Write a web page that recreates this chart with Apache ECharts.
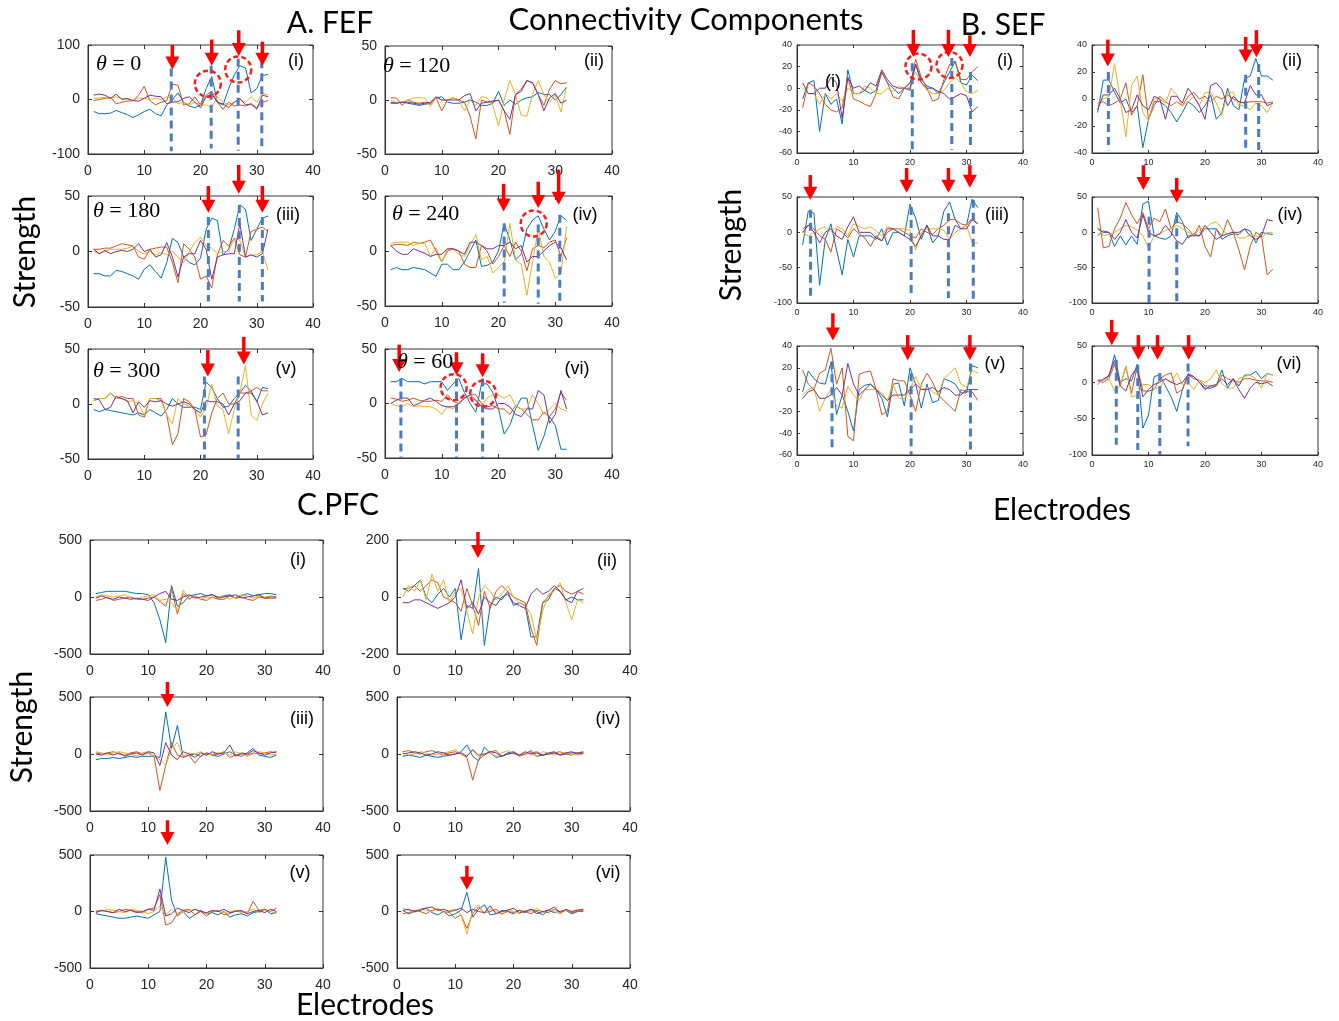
<!DOCTYPE html>
<html><head><meta charset="utf-8">
<script src="https://cdn.jsdelivr.net/npm/echarts@6/dist/echarts.min.js"></script>
<style>html,body{margin:0;padding:0;background:#fff}#c{width:1339px;height:1021px}</style>
</head><body><div id="c"></div>
<script>
const ELECTRODES = [1,2,3,4,5,6,7,8,9,10,11,12,13,14,15,16,17,18,19,20,21,22,23,24,25,26,27,28,29,30,31,32];
const X_TICKS = [0,10,20,30,40];

// ---- A. FEF ----
const FEF1_B = [-22,-26,-26,-25,-20,-24,-28,-33,-28,-22,-18,-26,-30,-10,0,12,-5,-12,-15,-10,20,42,-5,-10,20,45,62,58,12,20,44,46];
const FEF1_O = [-2,0,2,4,-8,-5,-3,-2,8,24,-2,-10,-5,-2,28,26,-10,-8,5,-10,8,15,-5,-18,-5,-12,-10,-12,-8,-15,-5,-2];
const FEF1_Y = [2,3,4,2,5,2,0,-2,3,2,0,2,0,5,2,-8,-5,-10,-5,-10,-10,-15,5,-5,-10,-5,0,-5,5,-5,12,8];
const FEF1_P = [8,10,8,2,10,0,2,-2,-3,2,8,6,5,-8,-5,-4,2,5,-5,-15,5,10,-5,-8,-15,-5,2,-10,-8,-18,8,5];

const FEF2_B = [-2,-3,-2,-3,-4,-5,-4,-3,2,3,-2,-3,-3,-2,0,-2,-5,-5,-3,8,-5,0,-4,0,2,3,7,5,5,0,5,12];
const FEF2_O = [2,2,-5,0,-2,-3,-2,-4,2,-10,0,2,0,-2,-15,-36,0,-2,-2,0,-10,-32,5,10,18,16,5,-5,10,18,15,16];
const FEF2_Y = [0,-2,-2,0,2,2,2,-6,2,0,0,2,0,-10,0,-5,3,2,-5,-24,0,18,5,-14,-15,5,18,5,-2,5,-11,12];
const FEF2_P = [-3,-3,-2,-2,-3,-4,-3,-2,3,0,0,0,0,4,6,-10,-3,-2,-1,0,-10,-18,5,8,18,16,5,-10,2,6,-3,0];

const FEF3_B = [-20,-20,-22,-22,-17,-18,-20,-22,-25,-16,-12,-18,-24,-10,12,8,-5,-10,-12,-6,20,30,28,-3,2,20,42,38,10,20,30,32];
const FEF3_O = [2,2,3,3,5,7,6,5,-5,-7,2,3,4,4,-10,-28,7,2,-5,-25,-22,-33,-3,10,5,12,-3,-5,18,20,22,18];
const FEF3_Y = [0,-2,0,2,2,2,3,5,0,-2,0,-3,-1,-3,0,-5,-10,0,8,13,5,3,-2,0,0,12,10,-5,-3,-3,0,-17];
const FEF3_P = [2,-2,1,-2,0,1,0,2,7,0,2,-5,-3,8,-5,-23,-5,-2,-2,10,2,-25,-5,-3,-2,-2,25,-5,-3,-5,-2,20];

const FEF4_B = [-17,-15,-17,-17,-15,-16,-17,-20,-23,-12,-12,-17,-17,-10,0,10,-14,-13,-10,0,25,10,-8,-3,20,28,32,20,10,18,32,28];
const FEF4_O = [5,6,6,5,8,7,8,10,0,-10,0,2,0,-12,-15,-15,5,0,-12,-5,5,-5,8,0,-18,2,5,3,8,10,-5,12];
const FEF4_Y = [7,8,8,8,5,7,7,-5,3,-10,2,2,-3,-5,5,15,-8,-5,-20,-15,-10,25,-8,-12,-40,-10,20,-5,-10,-25,-20,22];
const FEF4_P = [5,0,-3,-3,2,0,-2,-5,-3,-3,2,2,0,-3,8,8,5,2,2,5,5,8,2,5,-10,-5,-5,0,5,8,3,-8];

const FEF5_B = [-5,-7,-5,-6,-7,-8,-9,-10,-8,-10,-5,-8,-11,-5,5,0,-3,-3,-3,-5,20,15,5,-3,-2,5,10,17,12,2,15,14];
const FEF5_O = [3,5,5,10,5,7,5,5,-10,-12,5,5,5,-10,-37,-27,5,2,-5,-30,-28,-8,5,10,0,0,10,10,12,15,12,12];
const FEF5_Y = [3,5,5,10,5,5,2,3,0,-10,5,5,3,-10,-18,5,0,-2,-5,-12,-3,18,-2,-5,-27,-5,10,35,-10,-15,0,10];
const FEF5_P = [5,4,-5,-3,7,5,3,-8,2,-3,3,2,3,0,-2,0,2,0,-5,-8,3,2,2,0,-10,0,3,10,10,3,-10,-8];

const FEF6_B = [20,20,23,20,20,20,18,20,20,20,12,18,23,10,0,-8,18,18,10,-5,-28,-20,-5,5,5,-20,-43,-30,-12,-20,-42,-42];
const FEF6_O = [5,4,2,3,5,3,2,2,3,2,8,2,0,5,8,8,0,-3,-2,-5,-5,-10,-2,-5,-10,-15,-15,-8,-12,-5,10,3];
const FEF6_Y = [0,-2,-3,0,-3,-2,-3,-3,-5,-10,-3,-5,0,5,5,3,-2,5,8,8,5,8,-2,-5,-5,8,0,-10,-5,0,-5,-7];
const FEF6_P = [0,3,5,5,-2,0,3,5,2,-2,-3,-3,0,5,8,3,-3,-5,-5,0,0,-3,-10,-12,-5,-5,12,8,-18,-10,12,-5];

// ---- B. SEF ----
const SEF1_B = [-10,5,7,-40,-5,-15,-10,-33,17,-5,-5,-2,-5,-2,15,5,0,-5,0,-2,22,8,2,0,-5,5,15,25,5,3,12,7];
const SEF1_O = [-18,5,2,-5,-15,-20,-22,-18,10,-10,-12,-15,-17,-5,15,5,-8,-10,0,0,27,10,0,-12,-10,8,22,25,8,8,15,20];
const SEF1_Y = [0,-5,-5,-15,-5,-10,-5,-12,0,-5,-5,2,0,-5,-5,0,-3,2,0,5,15,5,-2,-5,-5,-2,5,10,5,-3,-5,-2];
const SEF1_P = [5,-5,-5,0,0,10,5,-28,10,0,2,-2,5,2,17,8,2,0,0,5,22,5,0,0,-3,-5,-10,-8,-5,-7,-22,-17];

const SEF2_B = [-10,14,14,5,-3,0,-10,-5,-36,-15,-2,-2,-5,-10,-17,-10,-2,-5,-10,-5,3,-15,-10,8,-5,-8,15,17,30,17,17,14];
const SEF2_O = [-3,-2,-5,-3,0,12,-12,-5,18,-15,-5,2,-2,-5,-2,-5,2,5,0,2,-2,2,0,3,0,-2,-3,-2,-2,-2,-3,-2];
const SEF2_Y = [-3,0,2,26,0,-28,10,17,-10,-16,0,0,-3,8,3,-5,-2,2,-5,5,5,-3,-12,5,5,-5,-5,-8,-3,-5,-10,-3];
const SEF2_P = [-8,3,3,8,0,-10,-8,3,-5,-8,2,0,-15,2,2,-3,8,2,-5,-15,10,12,7,-5,2,-2,-3,10,3,3,-5,-3];

const SEF3_B = [-18,30,27,-75,-10,12,-25,-60,-10,-35,-5,-5,-5,-10,5,-18,0,0,-5,40,20,-10,10,-15,-5,30,43,18,5,10,47,35];
const SEF3_O = [5,10,5,-5,-10,-28,5,0,-8,5,-2,-8,-20,-5,-12,0,5,5,0,-5,-8,5,0,-3,5,10,18,18,12,10,20,12];
const SEF3_Y = [0,-5,0,5,8,0,8,5,-5,12,8,5,8,2,-5,8,5,5,5,3,-25,0,5,5,5,3,-10,0,5,10,-15,-15];
const SEF3_P = [0,10,0,-15,0,5,-5,-10,8,22,0,0,0,-8,-12,5,5,0,-5,-10,-20,-5,10,-5,-5,-10,-10,10,5,5,18,12];

const SEF4_B = [-5,2,0,-20,-5,-18,-5,-17,40,44,-5,-8,-10,-5,28,15,-8,-2,-5,5,5,5,-10,-5,-2,-3,5,2,-15,0,-2,-3];
const SEF4_O = [35,-22,-20,5,20,42,25,12,28,5,20,15,33,5,15,12,5,-5,10,-20,-35,5,-5,18,0,-25,-53,-20,0,-5,-60,-52];
const SEF4_Y = [8,-5,-3,0,5,10,8,3,-5,-22,-5,-3,3,5,10,5,0,-5,5,5,12,15,5,-3,2,-8,-8,-3,-5,-8,0,0];
const SEF4_P = [5,0,0,-10,0,18,0,-8,25,0,-5,-2,10,0,-12,-17,-5,-5,-5,10,0,-10,-5,-2,0,0,5,-5,-10,-5,18,16];

const SEF5_B = [-2,17,10,6,5,25,-23,-5,-20,-38,0,4,5,0,-8,-25,5,6,-15,20,5,-17,5,-12,-10,10,8,5,-3,-3,22,20];
const SEF5_O = [18,5,0,15,18,38,5,20,-43,-47,14,16,17,0,-23,-20,10,8,8,-5,-20,5,15,7,-5,-10,-15,-20,0,-2,-2,-10];
const SEF5_Y = [-5,0,2,-20,-8,0,-15,-17,3,-5,-10,0,0,0,-3,-10,5,-8,-8,0,12,0,2,-2,-5,10,15,20,5,2,18,15];
const SEF5_P = [-8,-2,0,-8,-8,-5,2,-5,24,5,-5,0,5,0,-5,-10,-5,-5,-5,0,5,0,0,2,-2,2,0,-5,-5,0,0,0];

const SEF6_B = [-3,5,8,38,0,5,2,25,-63,-45,8,10,-5,-20,-40,-10,12,8,0,-8,-8,-5,17,-8,5,-5,10,10,15,5,12,10];
const SEF6_O = [2,0,5,25,-5,22,-15,22,-12,-12,-10,5,10,13,-15,-10,10,5,3,-5,-5,-5,10,5,2,0,5,5,3,2,2,0];
const SEF6_Y = [-3,5,5,-12,-5,22,-20,-18,-3,-3,-8,-8,5,0,13,-3,0,-10,3,0,5,17,-2,-8,-8,5,8,10,5,-8,12,10];
const SEF6_P = [3,3,10,30,-5,-12,10,20,-20,-10,-3,0,5,0,-3,0,10,8,0,-10,-5,-3,5,-3,5,-10,-22,-8,0,-2,0,-5];

// ---- C. PFC ----
const PFC1_B = [30,40,50,50,50,50,40,30,30,20,-50,-200,-400,100,-80,-50,10,20,30,10,20,0,10,20,-10,10,30,10,20,30,30,20];
const PFC1_O = [-30,-20,0,-30,-20,-10,0,-20,-20,-10,0,-40,-80,80,-150,30,-20,10,-20,-30,0,-20,-20,10,-10,0,-20,-30,0,-10,-10,-10];
const PFC1_Y = [0,20,10,0,10,20,-10,-20,0,10,20,-30,-20,-50,-120,60,-10,0,-20,0,-10,0,10,-20,0,20,10,-10,10,0,10,0];
const PFC1_P = [-10,10,-10,-20,0,-10,-20,-10,-20,-30,0,30,50,-20,-30,0,20,-10,0,10,20,-10,0,10,20,-10,0,10,20,-10,0,0];

const PFC2_B = [30,20,40,60,0,-20,10,30,0,30,-150,-30,-40,100,-170,-30,0,-10,20,-30,-20,-30,-140,-140,-20,-10,30,20,-10,0,-10,-10];
const PFC2_O = [30,30,40,20,40,60,50,0,-10,-20,-50,30,-30,-100,20,-40,20,40,20,0,-10,-20,-110,-170,-20,0,30,40,20,10,20,10];
const PFC2_Y = [0,40,20,60,-10,80,20,60,-20,20,30,-50,-130,0,40,20,-10,10,40,0,-20,-30,-60,-150,-50,10,20,50,-20,-80,-10,-20];
const PFC2_P = [-20,-20,-10,-10,-20,-30,-40,-30,-20,0,60,-40,-20,-60,0,-20,-30,0,10,-20,-30,-40,10,30,10,20,40,20,-10,-20,20,30];

const PFC3_B = [-50,-40,-40,-30,-40,-30,-20,-30,-20,-20,-20,-30,370,50,250,-30,-10,0,-20,10,-10,-20,0,20,-10,-20,10,50,-10,-20,-30,-10];
const PFC3_O = [10,0,10,20,0,-10,10,20,0,10,-20,-320,-100,100,-10,-30,-10,-80,-20,10,-10,0,20,-30,-10,0,-10,10,0,10,20,10];
const PFC3_Y = [20,10,-10,10,20,10,0,-20,10,20,-20,-50,-100,50,100,-20,10,0,20,-10,0,10,10,-10,20,0,-20,0,20,10,-10,0];
const PFC3_P = [0,-10,10,-10,10,-20,0,10,-10,20,10,-100,100,-10,-50,20,0,-30,10,-10,20,0,10,80,-20,10,0,30,10,-10,10,20];

const PFC4_B = [-20,-10,-20,-30,-10,-20,-30,-20,-10,0,20,80,-20,-60,60,10,-30,-20,10,20,-10,0,30,-20,-10,10,20,-10,0,10,10,20];
const PFC4_O = [20,30,10,0,20,30,10,-10,10,20,0,-30,-230,-50,-10,20,30,-20,0,10,-20,0,10,20,-10,0,10,20,0,-10,10,10];
const PFC4_Y = [10,-10,0,20,10,-10,0,10,20,40,0,-20,30,-30,0,10,-20,10,30,0,-10,10,0,-20,20,10,-10,0,10,0,-10,0];
const PFC4_P = [0,10,20,10,-10,0,20,10,-10,0,10,-20,40,-10,0,20,10,-20,0,10,-10,20,0,10,-10,0,10,-10,10,20,0,10];

const PFC5_B = [-20,-30,-40,-50,-60,-60,-50,-40,-50,-60,-30,0,480,100,-40,0,-60,-30,10,-20,-10,-30,0,-50,-30,-20,-40,-10,0,20,-20,-10];
const PFC5_O = [0,10,0,-10,0,20,10,0,-10,20,30,150,-120,-100,-20,10,20,-30,0,-40,0,10,-30,-20,10,0,-20,90,10,20,0,30];
const PFC5_Y = [10,0,20,10,0,-10,20,10,0,-20,0,50,-30,20,-30,0,10,20,0,-20,10,0,-10,0,10,-10,0,20,-10,10,0,-20];
const PFC5_P = [-10,10,0,-10,20,0,10,-10,0,20,10,200,-40,-20,30,10,-10,20,0,-10,10,0,20,-10,0,10,-20,0,10,-10,20,0];

const PFC6_B = [10,-20,0,20,30,-10,-30,0,-40,-20,10,170,-50,20,60,-30,-20,10,0,-20,10,-10,20,0,-30,10,-10,0,10,-20,0,10];
const PFC6_O = [-20,-10,10,0,-20,10,20,0,-10,-60,-30,-150,-20,40,-10,0,20,-20,0,-10,10,0,-20,10,0,-10,20,0,10,-10,0,0];
const PFC6_Y = [30,10,-10,20,10,0,30,-10,10,20,-30,-200,10,60,-20,20,0,-30,20,0,-20,10,0,30,-10,20,0,-20,10,0,20,10];
const PFC6_P = [10,20,0,10,30,40,10,20,0,10,30,-10,20,0,-10,50,-20,0,10,30,-10,0,20,-20,0,10,40,-10,20,0,10,20];

// ---- annotations (data units): arrows [electrode, tip, tail], dashed markers [electrode, top, bottom], circles [electrode, value]
const FEF1_ARROWS = [[15,55,100],[22,62,110],[26.8,80,127],[31,62,106]];
const FEF3_ARROWS = [[21.4,35,59],[26.8,52,78],[31,35,59]];
const FEF4_ARROWS = [[20.9,36,61],[27,39,63],[30.6,42,74]];
const FEF5_ARROWS = [[21.3,25,49],[27.7,36,61]];
const FEF6_ARROWS = [[2.5,29,54],[12.6,26,47],[17.2,24,46]];
const SEF1_ARROWS = [[20.6,29,54],[26.8,29,54],[30.6,29,49]];
const SEF2_ARROWS = [[2.8,24,44],[27.2,27,46],[29.1,31,51]];
const SEF3_ARROWS = [[2.35,46,81],[19.4,56,91],[26.8,56,91],[30.6,63,95]];
const SEF4_ARROWS = [[9.1,60,95],[15,42,77]];
const SEF5_ARROWS = [[6.35,45,70],[19.6,27,50],[30.6,27,50]];
const SEF6_ARROWS = [[3.5,51,86],[8.2,31,65],[11.6,31,65],[17.1,31,65]];
const PFC2_ARROWS = [[13.9,137,228]];
const PFC3_ARROWS = [[13.3,412,632]];
const PFC5_ARROWS = [[13.3,588,807]];
const PFC6_ARROWS = [[12,193,404]];

const FEF1_DASH = [[14.8,57,-95],[21.9,62,-90],[26.7,75,-94],[30.9,72,-90]];
const FEF3_DASH = [[21.4,31,-45],[26.9,42,-45],[31,31,-45]];
const FEF4_DASH = [[21,25,-47],[27,24,-48],[30.8,33,-46]];
const FEF5_DASH = [[20.7,25,-50],[26.7,25,-50]];
const FEF6_DASH = [[2.8,23,-50],[12.6,23,-50],[17.2,23,-50]];
const SEF1_DASH = [[20.4,23,-57],[27.4,28,-57],[30.7,15,-57]];
const SEF2_DASH = [[2.9,20,-38],[27.2,18,-38],[29.5,26,-38]];
const SEF3_DASH = [[2.4,32,-93],[20.2,36,-86],[26.8,27,-93],[31.2,46,-100]];
const SEF4_DASH = [[10.1,22,-100],[15,24,-98]];
const SEF5_DASH = [[6.2,26,-55],[20.2,15,-60],[30.7,24,-55]];
const SEF6_DASH = [[4.3,31,-86],[8.1,24,-93],[12,13,-100],[17,26,-88]];

const FEF1_CIRCLES = [[21.3,29],[26.7,55]];
const FEF4_CIRCLES = [[26.2,25]];
const FEF6_CIRCLES = [[12.1,15],[17.3,9]];
const SEF1_CIRCLES = [[21.5,20],[27,21.5]];

const COLORS = ['#0072BD','#D95319','#EDB120','#7E2F8E'];

const panels = [
  {box:[88,45,225,109], y:[-100,100,100], fs:14, lines:[FEF1_B,FEF1_O,FEF1_Y,FEF1_P], arrows:FEF1_ARROWS, dash:FEF1_DASH, circles:FEF1_CIRCLES, theta:'0', tpos:[96,64], tag:'(i)', tagpos:[296,61]},
  {box:[385,46,227,108], y:[-50,50,50], fs:14, lines:[FEF2_B,FEF2_O,FEF2_Y,FEF2_P], theta:'120', tpos:[383,66], tag:'(ii)', tagpos:[594,61]},
  {box:[88,196,225,111], y:[-50,50,50], fs:14, lines:[FEF3_B,FEF3_O,FEF3_Y,FEF3_P], arrows:FEF3_ARROWS, dash:FEF3_DASH, theta:'180', tpos:[93,211], tag:'(iii)', tagpos:[288,215]},
  {box:[385,196,227,110], y:[-50,50,50], fs:14, lines:[FEF4_B,FEF4_O,FEF4_Y,FEF4_P], arrows:FEF4_ARROWS, dash:FEF4_DASH, circles:FEF4_CIRCLES, theta:'240', tpos:[392,214], tag:'(iv)', tagpos:[585,215]},
  {box:[88,349,225,110], y:[-50,50,50], fs:14, lines:[FEF5_B,FEF5_O,FEF5_Y,FEF5_P], arrows:FEF5_ARROWS, dash:FEF5_DASH, theta:'300', tpos:[93,371], tag:'(v)', tagpos:[286,369]},
  {box:[385,349,227,109], y:[-50,50,50], fs:14, lines:[FEF6_B,FEF6_O,FEF6_Y,FEF6_P], arrows:FEF6_ARROWS, dash:FEF6_DASH, circles:FEF6_CIRCLES, theta:'60', tpos:[397,362], tag:'(vi)', tagpos:[577,369]},

  {box:[797,45,226,108], y:[-60,40,20], fs:9, lines:[SEF1_B,SEF1_O,SEF1_Y,SEF1_P], arrows:SEF1_ARROWS, dash:SEF1_DASH, circles:SEF1_CIRCLES, tag:'(i)', tagpos:[1005,61], tag2:'(i)', tag2pos:[833,82]},
  {box:[1092,45,226,108], y:[-40,40,20], fs:9, lines:[SEF2_B,SEF2_O,SEF2_Y,SEF2_P], arrows:SEF2_ARROWS, dash:SEF2_DASH, tag:'(ii)', tagpos:[1292,61]},
  {box:[797,197,226,106], y:[-100,50,50], fs:9, lines:[SEF3_B,SEF3_O,SEF3_Y,SEF3_P], arrows:SEF3_ARROWS, dash:SEF3_DASH, tag:'(iii)', tagpos:[997,215]},
  {box:[1092,197,226,106], y:[-100,50,50], fs:9, lines:[SEF4_B,SEF4_O,SEF4_Y,SEF4_P], arrows:SEF4_ARROWS, dash:SEF4_DASH, tag:'(iv)', tagpos:[1290,215]},
  {box:[797,346,226,109], y:[-60,40,20], fs:9, lines:[SEF5_B,SEF5_O,SEF5_Y,SEF5_P], arrows:SEF5_ARROWS, dash:SEF5_DASH, tag:'(v)', tagpos:[995,364]},
  {box:[1092,346,226,109], y:[-100,50,50], fs:9, lines:[SEF6_B,SEF6_O,SEF6_Y,SEF6_P], arrows:SEF6_ARROWS, dash:SEF6_DASH, tag:'(vi)', tagpos:[1289,364]},

  {box:[90,540,233,114], y:[-500,500,500], fs:14, lines:[PFC1_B,PFC1_O,PFC1_Y,PFC1_P], tag:'(i)', tagpos:[298,560]},
  {box:[397,540,233,114], y:[-200,200,200], fs:14, lines:[PFC2_B,PFC2_O,PFC2_Y,PFC2_P], arrows:PFC2_ARROWS, tag:'(ii)', tagpos:[607,561]},
  {box:[90,697,233,114], y:[-500,500,500], fs:14, lines:[PFC3_B,PFC3_O,PFC3_Y,PFC3_P], arrows:PFC3_ARROWS, tag:'(iii)', tagpos:[302,719]},
  {box:[397,697,233,114], y:[-500,500,500], fs:14, lines:[PFC4_B,PFC4_O,PFC4_Y,PFC4_P], tag:'(iv)', tagpos:[608,719]},
  {box:[90,855,233,113], y:[-500,500,500], fs:14, lines:[PFC5_B,PFC5_O,PFC5_Y,PFC5_P], arrows:PFC5_ARROWS, tag:'(v)', tagpos:[300,873]},
  {box:[397,855,233,113], y:[-500,500,500], fs:14, lines:[PFC6_B,PFC6_O,PFC6_Y,PFC6_P], arrows:PFC6_ARROWS, tag:'(vi)', tagpos:[608,873]}
];

const chart = echarts.init(document.getElementById('c'), null, {renderer:'canvas'});
const AX = '#333';
const N = panels.length;
const grids=[], xAxes=[], yAxes=[], series=[];
panels.forEach((p,i)=>{
  grids.push({left:p.box[0], top:p.box[1], width:p.box[2], height:p.box[3], show:true, borderColor:AX, borderWidth:1, backgroundColor:'#fff', containLabel:false});
  const small = p.fs < 12;
  const tick = {show:true, inside:true, length:small?3:4, lineStyle:{color:AX}};
  xAxes.push({gridIndex:i, type:'value', position:'bottom', min:X_TICKS[0], max:X_TICKS[X_TICKS.length-1], interval:10,
    axisLine:{show:true, onZero:false, lineStyle:{color:AX}}, axisTick:tick,
    splitLine:{show:false}, axisLabel:{fontFamily:'Liberation Sans', fontSize:p.fs, color:'#262626', margin:small?5:10}});
  yAxes.push({gridIndex:i, type:'value', position:'left', min:p.y[0], max:p.y[1], interval:p.y[2],
    axisLine:{show:true, onZero:false, lineStyle:{color:AX}}, axisTick:tick,
    splitLine:{show:false}, axisLabel:{fontFamily:'Liberation Sans', fontSize:p.fs, color:'#262626', margin:small?5:8}});
  p.lines.forEach((vals,k)=>{
    series.push({type:'line', xAxisIndex:i, yAxisIndex:i, data:ELECTRODES.map((e,j)=>[e, vals[j]]),
      showSymbol:false, symbol:'none', lineStyle:{width:1, color:COLORS[k]}, itemStyle:{color:COLORS[k]}, silent:true, animation:false, z:2+k});
  });
});
// mirrored box ticks (top / right)
panels.forEach((p,i)=>{
  const small = p.fs < 12;
  const tick = {show:true, inside:true, length:small?3:4, lineStyle:{color:AX}};
  xAxes.push({gridIndex:i, type:'value', position:'top', min:X_TICKS[0], max:X_TICKS[X_TICKS.length-1], interval:10,
    axisLine:{show:false, onZero:false}, axisTick:tick, axisLabel:{show:false}, splitLine:{show:false}});
  yAxes.push({gridIndex:i, type:'value', position:'right', min:p.y[0], max:p.y[1], interval:p.y[2],
    axisLine:{show:false, onZero:false}, axisTick:tick, axisLabel:{show:false}, splitLine:{show:false}});
});

chart.setOption({animation:false, grid:grids, xAxis:xAxes, yAxis:yAxes, series:series});

const g = [];
const T = (text, x, y, size, opts) => g.push(Object.assign({type:'text', x:x, y:y, z:50, style:Object.assign({text:text, fontSize:size, fontFamily:'Lato', fill:'#000', textAlign:'center', textVerticalAlign:'middle'}, opts||{})}));

T('Connectivity Components', 686, 20, 31);
T('A. FEF', 330, 23, 30);
T('B. SEF', 1003, 25, 30);
T('C.PFC', 338, 505, 30);
T('Electrodes', 1062, 510, 30);
T('Electrodes', 365, 1005, 30);
[[25,252],[731,245],[22,727]].forEach(pp=>g.push({type:'text', x:pp[0], y:pp[1], rotation:Math.PI/2, z:50, style:{text:'Strength', fontSize:30, fontFamily:'Lato', fill:'#000', textAlign:'center', textVerticalAlign:'middle'}}));

panels.forEach((p,i)=>{
  const px = (x,y)=>chart.convertToPixel({gridIndex:i}, [x,y]);
  (p.dash||[]).forEach(d=>{
    const a=px(d[0],d[1]), b=px(d[0],d[2]);
    g.push({type:'line', z:30, shape:{x1:a[0],y1:a[1],x2:b[0],y2:b[1]}, style:{stroke:'#4A7CC6', lineWidth:3, lineDash:[8,5]}});
  });
  (p.circles||[]).forEach(c=>{
    const a=px(c[0],c[1]);
    g.push({type:'circle', z:31, shape:{cx:a[0], cy:a[1], r:13}, style:{fill:null, stroke:'#FF1A1A', lineWidth:2.5, lineDash:[5,3]}});
  });
  (p.arrows||[]).forEach(ar=>{
    const tip=px(ar[0],ar[1]), tail=px(ar[0],ar[2]);
    g.push({type:'line', z:32, shape:{x1:tip[0],y1:tail[1],x2:tip[0],y2:tip[1]-10}, style:{stroke:'#FF0000', lineWidth:3.5}});
    g.push({type:'polygon', z:32, shape:{points:[[tip[0]-7,tip[1]-13],[tip[0]+7,tip[1]-13],[tip[0],tip[1]]]}, style:{fill:'#FF0000'}});
  });
  if(p.theta!==undefined){
    g.push({type:'text', x:p.tpos[0], y:p.tpos[1], z:50, style:{rich:{th:{fontFamily:'Liberation Serif', fontStyle:'italic', fontSize:22, fill:'#000'}, n:{fontFamily:'Liberation Serif', fontSize:22, fill:'#000'}}, text:'{th|θ}{n| = '+p.theta+'}', textAlign:'left', textVerticalAlign:'middle'}});
  }
  T(p.tag, p.tagpos[0], p.tagpos[1], 18, {fontFamily:'Liberation Sans'});
  if(p.tag2) T(p.tag2, p.tag2pos[0], p.tag2pos[1], 18, {fontFamily:'Liberation Sans'});
});

chart.setOption({graphic:g});
</script></body></html>
